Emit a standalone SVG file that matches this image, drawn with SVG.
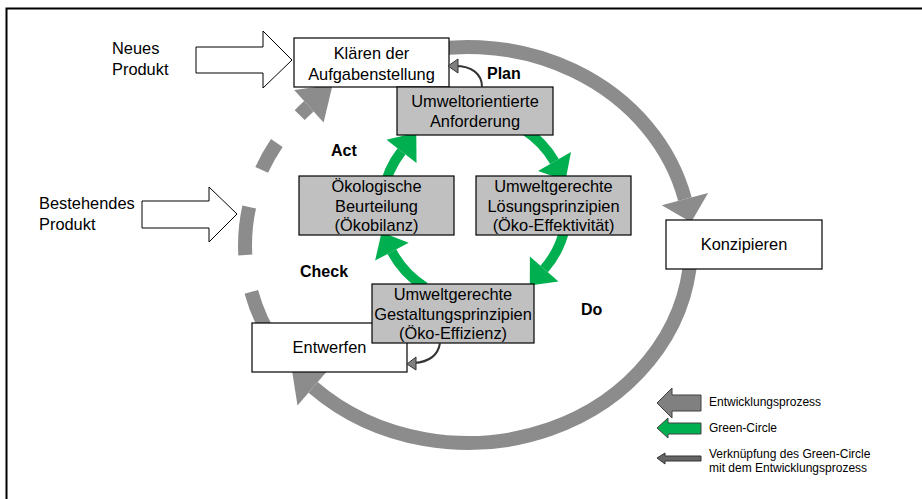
<svg xmlns="http://www.w3.org/2000/svg" width="922" height="499" viewBox="0 0 922 499">
  <style>
    text { font-family: "Liberation Sans", Arial, sans-serif; fill: #000; }
    .t { font-size: 16.4px; text-anchor: middle; }
    .lbl { font-size: 16.4px; }
    .phase { font-size: 16px; font-weight: bold; }
    .leg { font-size: 12px; }
    .box { fill: #fff; stroke: #000; stroke-width: 1.2; }
    .gbox { fill: #C0C0C0; stroke: #000; stroke-width: 1.2; }
    .proc { fill: none; stroke: #8C8C8C; stroke-width: 14; }
    .proc-head { fill: #8C8C8C; }
    .gc { fill: none; stroke: #00B050; stroke-width: 10; }
    .gc-head { fill: #00B050; }
    .link { fill: none; stroke: #333; stroke-width: 2; }
    .link-head { fill: #808080; stroke: #333; stroke-width: 1; }
    .hollow { fill: #fff; stroke: #000; stroke-width: 1; }
  </style>

  <!-- frame -->
  <rect x="6.5" y="8.5" width="930" height="500" fill="#fff" stroke="#000" stroke-width="2"/>

  <g id="connectors">
    <!-- development process (outer ring) -->
    <path class="proc" d="M391.7 58.9 A223 198 0 0 1 684.9 199.1"/>
    <polygon class="proc-head" points="708.1,192.9 691.1,222.3 661.7,205.3"/>
    <path class="proc" d="M690.7 255.4 A223 198 0 0 1 313.1 387.4"/>
    <polygon class="proc-head" points="328.7,369.2 291.8,369.2 297.5,405.6"/>

    <!-- dashed return path towards task definition -->
    <path class="proc" d="M274.9 344 A223 198 0 0 1 251.3 291.9"/>
    <path class="proc" d="M245.3 255 A223 198 0 0 1 249.2 206.9"/>
    <path class="proc" d="M261.7 169.9 A223 198 0 0 1 276.8 143"/>
    <path class="proc" d="M299.7 115.1 A223 198 0 0 1 308.9 106.2"/>
    <polygon class="proc-head" points="294.2,89.9 332.6,84.8 323.6,122.5"/>

    <!-- Green-Circle -->
    <path class="gc" d="M524.6 130 A93 93 0 0 1 554.5 161.5"/>
    <polygon class="gc-head" points="571,152 565.5,180.5 538,171"/>
    <path class="gc" d="M565 227.3 A93 93 0 0 1 544.2 269"/>
    <polygon class="gc-head" points="558.5,281.5 529.8,285.6 529.9,256.5"/>
    <path class="gc" d="M424.7 286.9 A93 93 0 0 1 391.9 251.7"/>
    <polygon class="gc-head" points="375.1,260.6 381.6,232.3 408.7,242.8"/>
    <path class="gc" d="M383.4 192 A92 92 0 0 1 401.5 151.4"/>
    <polygon class="gc-head" points="386.5,139.7 416.3,132.5 416.5,163.1"/>

    <!-- input arrows -->
    <polygon class="hollow" points="196,47 263,47 263,31 292,60 263,88 263,73 196,73"/>
    <polygon class="hollow" points="142,201 209,201 209,187 237,214 209,242 209,228 142,228"/>
  </g>

  <g id="n-klaeren">
    <rect class="box" x="294" y="38" width="155" height="49"/>
    <text class="t" x="371.5" y="59">Klären der</text>
    <text class="t" x="371.5" y="80">Aufgabenstellung</text>
  </g>
  <g id="n-anforderung">
    <rect class="gbox" x="397" y="87" width="156" height="48"/>
    <text class="t" x="475" y="107">Umweltorientierte</text>
    <text class="t" x="475" y="127">Anforderung</text>
  </g>
  <g id="n-beurteilung">
    <rect class="gbox" x="299" y="176" width="155" height="59"/>
    <text class="t" x="376.5" y="192">Ökologische</text>
    <text class="t" x="376.5" y="212">Beurteilung</text>
    <text class="t" x="376.5" y="231">(Ökobilanz)</text>
  </g>
  <g id="n-loesung">
    <rect class="gbox" x="476" y="176" width="155" height="59"/>
    <text class="t" x="553.5" y="192">Umweltgerechte</text>
    <text class="t" x="553.5" y="212">Lösungsprinzipien</text>
    <text class="t" x="553.5" y="231">(Öko-Effektivität)</text>
  </g>
  <g id="n-konzipieren">
    <rect class="box" x="666" y="220" width="156" height="49"/>
    <text class="t" x="744" y="250">Konzipieren</text>
  </g>
  <g id="n-entwerfen">
    <rect class="box" x="252" y="323" width="155" height="49"/>
    <text class="t" x="329.5" y="353">Entwerfen</text>
  </g>
  <g id="n-gestaltung">
    <rect class="gbox" x="372" y="284" width="162" height="59"/>
    <text class="t" x="453" y="300">Umweltgerechte</text>
    <text class="t" x="453" y="320">Gestaltungsprinzipien</text>
    <text class="t" x="453" y="339">(Öko-Effizienz)</text>
  </g>

  <g id="links">
    <path class="link" d="M482 87 C482 74 472 66 455 66"/>
    <polygon class="link-head" points="448,66 458,59 458,73"/>
    <path class="link" d="M440 343 C438 356 428 362 414 363"/>
    <polygon class="link-head" points="407,364 416,357 416,370"/>
  </g>

  <g id="labels">
    <text class="lbl" x="112" y="54">Neues</text>
    <text class="lbl" x="112" y="75">Produkt</text>
    <text class="lbl" x="39" y="209">Bestehendes</text>
    <text class="lbl" x="39" y="230">Produkt</text>
    <text class="phase" x="487" y="79">Plan</text>
    <text class="phase" x="331" y="156">Act</text>
    <text class="phase" x="300" y="277">Check</text>
    <text class="phase" x="581" y="315">Do</text>
  </g>

  <g id="legend">
    <polygon fill="#808080" stroke="#404040" stroke-width="1" points="657,403 672,388 672,395 701,395 701,411 672,411 672,418"/>
    <polygon fill="#00B050" stroke="#404040" stroke-width="1" points="657,428 668,418 668,423 701,423 701,434 668,434 668,438"/>
    <polygon fill="#666" stroke="#333" stroke-width="1" points="657,458 665,453 665,456 701,456 701,461 665,461 665,464"/>
    <text class="leg" x="709" y="406">Entwicklungsprozess</text>
    <text class="leg" x="709" y="432">Green-Circle</text>
    <text class="leg" x="709" y="458">Verknüpfung des Green-Circle</text>
    <text class="leg" x="709" y="472">mit dem Entwicklungsprozess</text>
  </g>
</svg>
